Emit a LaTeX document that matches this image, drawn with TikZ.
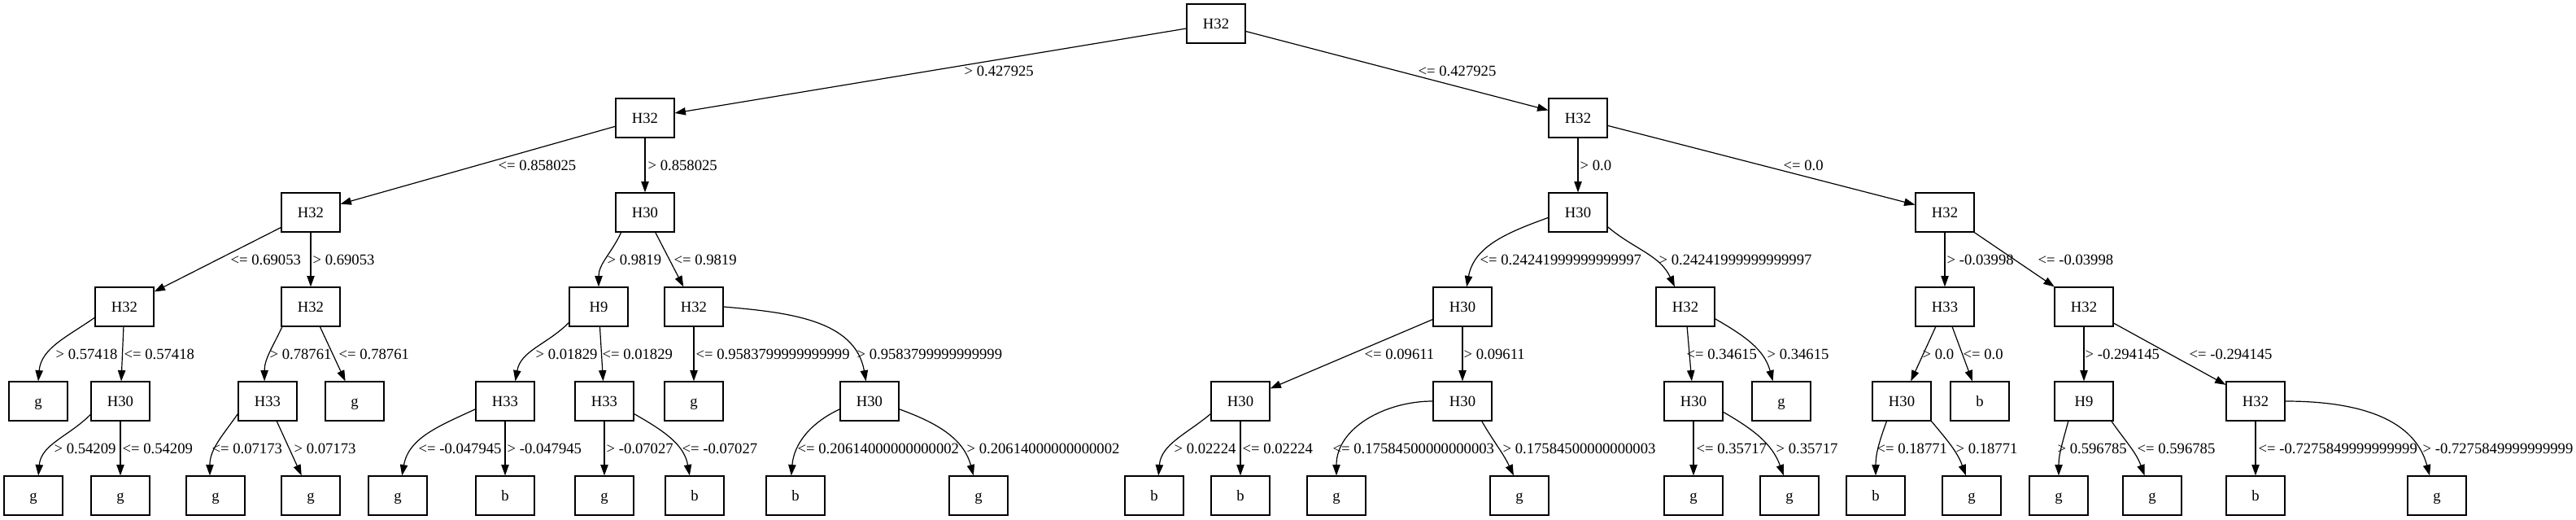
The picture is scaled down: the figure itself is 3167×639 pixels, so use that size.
\documentclass[tikz,border=0pt]{standalone}
\usepackage{fontspec}
\setmainfont{Liberation Serif}
\usetikzlibrary{arrows.meta}

\begin{document}
\begin{tikzpicture}[x=0.75pt,y=0.75pt,line width=0.9pt,>={Triangle[length=10pt,width=7pt]},
  tnode/.style={draw,minimum width=54pt,minimum height=36pt,inner sep=0pt,
    text height=9.3pt,text depth=0pt,font=\fontsize{14}{16}\selectfont},
  lbl/.style={anchor=west,inner sep=0pt,text height=9.3pt,text depth=0pt,
    font=\fontsize{14}{16}\selectfont}]
  \useasboundingbox (0,0) rectangle (3167,639);
  % rank 0
  \node[tnode] (n) at (1495,610) {H32};
  % rank 1
  \node[tnode] (n0) at (793,494) {H32};
  \node[tnode] (n1) at (1940,494) {H32};
  % rank 2
  \node[tnode] (n00) at (382,378) {H32};
  \node[tnode] (n01) at (793,378) {H30};
  \node[tnode] (n10) at (1940,378) {H30};
  \node[tnode] (n11) at (2391,378) {H32};
  % rank 3
  \node[tnode] (n000) at (153,262) {H32};
  \node[tnode] (n001) at (382,262) {H32};
  \node[tnode] (n010) at (736,262) {H9};
  \node[tnode] (n011) at (853,262) {H32};
  \node[tnode] (n100) at (1798,262) {H30};
  \node[tnode] (n101) at (2072,262) {H32};
  \node[tnode] (n110) at (2391,262) {H33};
  \node[tnode] (n111) at (2562,262) {H32};
  % rank 4
  \node[tnode] (n0000) at (47,146) {g};
  \node[tnode] (n0001) at (148,146) {H30};
  \node[tnode] (n0010) at (329,146) {H33};
  \node[tnode] (n0011) at (436,146) {g};
  \node[tnode] (n0100) at (621,146) {H33};
  \node[tnode] (n0101) at (743,146) {H33};
  \node[tnode] (n0110) at (853,146) {g};
  \node[tnode] (n0111) at (1069,146) {H30};
  \node[tnode] (n1000) at (1525,146) {H30};
  \node[tnode] (n1001) at (1798,146) {H30};
  \node[tnode] (n1010) at (2082,146) {H30};
  \node[tnode] (n1011) at (2190,146) {g};
  \node[tnode] (n1100) at (2338,146) {H30};
  \node[tnode] (n1101) at (2434,146) {b};
  \node[tnode] (n1110) at (2562,146) {H9};
  \node[tnode] (n1111) at (2773,146) {H32};
  % rank 5
  \node[tnode] (n00010) at (41,30) {g};
  \node[tnode] (n00011) at (148,30) {g};
  \node[tnode] (n00100) at (265,30) {g};
  \node[tnode] (n00101) at (382,30) {g};
  \node[tnode] (n01000) at (489,30) {g};
  \node[tnode] (n01001) at (621,30) {b};
  \node[tnode] (n01010) at (743,30) {g};
  \node[tnode] (n01011) at (854,30) {b};
  \node[tnode] (n01110) at (978,30) {b};
  \node[tnode] (n01111) at (1203,30) {g};
  \node[tnode] (n10000) at (1419,30) {b};
  \node[tnode] (n10001) at (1525,30) {b};
  \node[tnode] (n10010) at (1643,30) {g};
  \node[tnode] (n10011) at (1868,30) {g};
  \node[tnode] (n10100) at (2082,30) {g};
  \node[tnode] (n10101) at (2200,30) {g};
  \node[tnode] (n11000) at (2306,30) {b};
  \node[tnode] (n11001) at (2424,30) {g};
  \node[tnode] (n11100) at (2531,30) {g};
  \node[tnode] (n11101) at (2646,30) {g};
  \node[tnode] (n11110) at (2773,30) {b};
  \node[tnode] (n11111) at (2996,30) {g};

  % edges
  \draw[->] (n) -- (n0);
  \draw[->] (n) -- (n1);
  \draw[->] (n0) -- (n00);
  \draw[->] (n0) -- (n01);
  \draw[->] (n1) -- (n10);
  \draw[->] (n1) -- (n11);
  \draw[->] (n00) -- (n000);
  \draw[->] (n00) -- (n001);
  \draw[->] (n01.220) to[out=245,in=90] (n010.north);
  \draw[->] (n01) -- (n011);
  \draw[->] (n10.190) to[out=200,in=80] (n100.78);
  \draw[->] (n10.-26) to[out=-40,in=115] (n101.118);
  \draw[->] (n11) -- (n110);
  \draw[->] (n11) -- (n111);
  \draw[->] (n000.200) to[out=215,in=85] (n0000.north);
  \draw[->] (n000) -- (n0001);
  \draw[->] (n001.215) to[out=245,in=90] (n0010.99);
  \draw[->] (n001) -- (n0011);
  \draw[->] (n010.208) to[out=225,in=80] (n0100.63);
  \draw[->] (n010) -- (n0101);
  \draw[->] (n011) -- (n0110);
  \draw[->] (n011.east) to[out=-5,in=100] (n0111.100);
  \draw[->] (n100) -- (n1000);
  \draw[->] (n100) -- (n1001);
  \draw[->] (n101) -- (n1010);
  \draw[->] (n101.-22) to[out=-30,in=105] (n1011.113);
  \draw[->] (n110) -- (n1100);
  \draw[->] (n110) -- (n1101);
  \draw[->] (n111) -- (n1110);
  \draw[->] (n111) -- (n1111);
  \draw[->] (n0001.204) to[out=225,in=85] (n00010.76);
  \draw[->] (n0001) -- (n00011);
  \draw[->] (n0010.203) to[out=235,in=90] (n00100.106);
  \draw[->] (n0010) -- (n00101);
  \draw[->] (n0100.195) to[out=205,in=80] (n01000.78);
  \draw[->] (n0100) -- (n01001);
  \draw[->] (n0101) -- (n01010);
  \draw[->] (n0101.-23) to[out=-30,in=100] (n01011.104);
  \draw[->] (n0111.195) to[out=205,in=85] (n01110.102);
  \draw[->] (n0111.-15) to[out=-20,in=105] (n01111.104);
  \draw[->] (n1000.203) to[out=220,in=85] (n10000.78);
  \draw[->] (n1000) -- (n10001);
  \draw[->] (n1001.west) to[out=180,in=90] (n10010.north);
  \draw[->] (n1001.-46) to[out=-60,in=115] (n10011.106);
  \draw[->] (n1010) -- (n10100);
  \draw[->] (n1010.-20) to[out=-30,in=110] (n10101.106);
  \draw[->] (n1100.233) to[out=250,in=90] (n11000.north);
  \draw[->] (n1100.-34) to[out=-50,in=110] (n11001.106);
  \draw[->] (n1110.232) to[out=255,in=90] (n11100.north);
  \draw[->] (n1110.-36) to[out=-55,in=110] (n11101.111);
  \draw[->] (n1111) -- (n11110);
  \draw[->] (n1111.east) to[out=0,in=105] (n11111.110);

  % edge labels
  \node[lbl] (t0) at (1185,552) {> 0.427925};
  \node[lbl] (t1) at (1743,552) {<= 0.427925};
  \node[lbl] (t00) at (612,436) {<= 0.858025};
  \node[lbl] (t01) at (796,436) {> 0.858025};
  \node[lbl] (t10) at (1942,436) {> 0.0};
  \node[lbl] (t11) at (2192,436) {<= 0.0};
  \node[lbl] (t000) at (283,320) {<= 0.69053};
  \node[lbl] (t001) at (384,320) {> 0.69053};
  \node[lbl] (t010) at (746,320) {> 0.9819};
  \node[lbl] (t011) at (828,320) {<= 0.9819};
  \node[lbl] (t100) at (1819,320) {<= 0.24241999999999997};
  \node[lbl] (t101) at (2039,320) {> 0.24241999999999997};
  \node[lbl] (t110) at (2393,320) {> -0.03998};
  \node[lbl] (t111) at (2505,320) {<= -0.03998};
  \node[lbl] (t0000) at (68,204) {> 0.57418};
  \node[lbl] (t0001) at (152,204) {<= 0.57418};
  \node[lbl] (t0010) at (331,204) {> 0.78761};
  \node[lbl] (t0011) at (416,204) {<= 0.78761};
  \node[lbl] (t0100) at (658,204) {> 0.01829};
  \node[lbl] (t0101) at (740,204) {<= 0.01829};
  \node[lbl] (t0110) at (855,204) {<= 0.9583799999999999};
  \node[lbl] (t0111) at (1053,204) {> 0.9583799999999999};
  \node[lbl] (t1000) at (1677,204) {<= 0.09611};
  \node[lbl] (t1001) at (1799,204) {> 0.09611};
  \node[lbl] (t1010) at (2073,204) {<= 0.34615};
  \node[lbl] (t1011) at (2172,204) {> 0.34615};
  \node[lbl] (t1100) at (2363,204) {> 0.0};
  \node[lbl] (t1101) at (2413,204) {<= 0.0};
  \node[lbl] (t1110) at (2563,204) {> -0.294145};
  \node[lbl] (t1111) at (2691,204) {<= -0.294145};
  \node[lbl] (t00010) at (66,88) {> 0.54209};
  \node[lbl] (t00011) at (150,88) {<= 0.54209};
  \node[lbl] (t00100) at (260,88) {<= 0.07173};
  \node[lbl] (t00101) at (361,88) {> 0.07173};
  \node[lbl] (t01000) at (514,88) {<= -0.047945};
  \node[lbl] (t01001) at (623,88) {> -0.047945};
  \node[lbl] (t01010) at (745,88) {> -0.07027};
  \node[lbl] (t01011) at (838,88) {<= -0.07027};
  \node[lbl] (t01110) at (980,88) {<= 0.20614000000000002};
  \node[lbl] (t01111) at (1188,88) {> 0.20614000000000002};
  \node[lbl] (t10000) at (1443,88) {> 0.02224};
  \node[lbl] (t10001) at (1527,88) {<= 0.02224};
  \node[lbl] (t10010) at (1638,88) {<= 0.17584500000000003};
  \node[lbl] (t10011) at (1847,88) {> 0.17584500000000003};
  \node[lbl] (t10100) at (2085,88) {<= 0.35717};
  \node[lbl] (t10101) at (2183,88) {> 0.35717};
  \node[lbl] (t11000) at (2307,88) {<= 0.18771};
  \node[lbl] (t11001) at (2404,88) {> 0.18771};
  \node[lbl] (t11100) at (2529,88) {> 0.596785};
  \node[lbl] (t11101) at (2627,88) {<= 0.596785};
  \node[lbl] (t11110) at (2776,88) {<= -0.7275849999999999};
  \node[lbl] (t11111) at (2978,88) {> -0.7275849999999999};
\end{tikzpicture}
\end{document}
